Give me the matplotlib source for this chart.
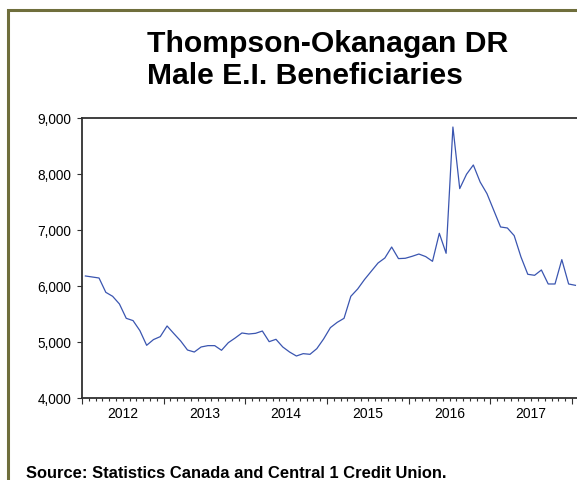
import matplotlib.pyplot as plt
from matplotlib.patches import Rectangle
from matplotlib.ticker import FuncFormatter
import numpy as np

plt.rcParams['font.family'] = ['Liberation Sans', 'DejaVu Sans']

# monthly male E.I. beneficiaries, Jan 2012 .. Jan 2018
start_year = 2012
beneficiaries = [
    6179, 6161, 6143, 5887, 5816, 5679, 5423, 5382, 5204, 4941, 5043, 5096,
    5286, 5150, 5018, 4857, 4821, 4911, 4935, 4935, 4852, 4988, 5071, 5161,
    5143, 5155, 5196, 5006, 5048, 4911, 4821, 4750, 4792, 4780, 4881, 5054,
    5257, 5351, 5423, 5816, 5946, 6114, 6263, 6411, 6500, 6696, 6489, 6495,
    6530, 6571, 6525, 6441, 6941, 6584, 8839, 7739, 7995, 8161, 7857, 7650,
    7352, 7054, 7036, 6900, 6518, 6209, 6191, 6286, 6036, 6036, 6471, 6036,
    6012,
]
year_labels = [2012, 2013, 2014, 2015, 2016, 2017]
y_ticks = [4000, 5000, 6000, 7000, 8000, 9000]

title_1 = "Thompson-Okanagan DR"
title_2 = "Male E.I. Beneficiaries"
source = "Source: Statistics Canada and Central 1 Credit Union."

W, H = 577, 480
fig = plt.figure(figsize=(W / 100, H / 100), dpi=100)

# olive frame round the chart (right and bottom fall off the picture)
fig.add_artist(Rectangle((7.5 / W, -0.1), 1.2, (H - 10) / H + 0.1,
                         transform=fig.transFigure, fill=False,
                         edgecolor='#6f6e3c', linewidth=2.2))

ax = fig.add_axes([82 / W, (H - 398) / H, (580 - 82) / W, (398 - 118) / H])

x = start_year + (np.arange(len(beneficiaries)) + 0.5) / 12
ax.plot(x, beneficiaries, color='#3a55b0', linewidth=0.9)

ax.set_xlim(2012, 2012 + (580 - 82) / 81.67)
ax.set_ylim(4000, 9000)

for s in ax.spines.values():
    s.set_color('#303030')
    s.set_linewidth(1.3)

ax.set_yticks(y_ticks)
ax.yaxis.set_major_formatter(FuncFormatter(lambda v, p: f"{int(v):,}"))
ax.tick_params(axis='y', direction='out', length=3.6, width=0.8,
               pad=4.3, labelsize=9.8, colors='#303030', labelcolor='black')

ax.set_xticks(np.arange(2012, 2019))
ax.set_xticks(np.arange(2012, 2018.1, 1 / 12), minor=True)
ax.set_xticklabels([])
ax.tick_params(axis='x', which='major', direction='out', length=4.3, width=0.8,
               colors='#303030')
ax.tick_params(axis='x', which='minor', direction='out', length=2.5, width=0.8,
               colors='#303030')

# year labels centred inside each year
sec = ax.secondary_xaxis('bottom')
sec.set_xticks([y + 0.5 for y in year_labels], labels=[str(y) for y in year_labels])
sec.tick_params(length=0, pad=6.5, labelsize=10)
sec.spines['bottom'].set_visible(False)

fig.text(147 / W, (H - 52) / H, title_1, fontsize=21.7, fontweight='bold',
         va='baseline', ha='left')
fig.text(147 / W, (H - 84) / H, title_2, fontsize=21.7, fontweight='bold',
         va='baseline', ha='left')
fig.text(26 / W, (H - 478.5) / H, source, fontsize=11.9, fontweight='bold',
         va='baseline', ha='left')

fig.savefig('out.png', dpi=100)
